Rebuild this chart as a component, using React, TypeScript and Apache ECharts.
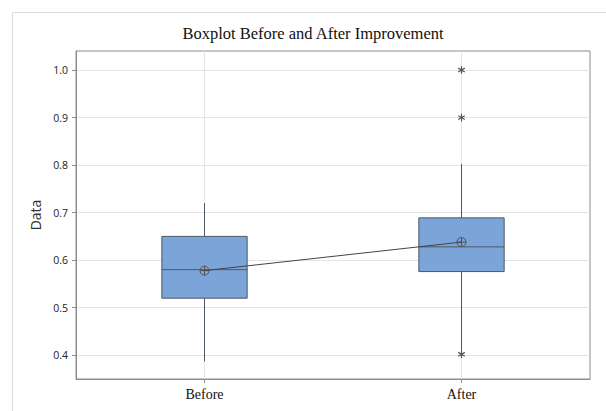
import React, { useEffect, useRef } from "react";
import * as echarts from "echarts";

const categories = ["Before", "After"];
const lowWhisker = [0.387, 0.41];
const q1 = [0.52, 0.576];
const medians = [0.58, 0.628];
const q3 = [0.65, 0.689];
const highWhisker = [0.72, 0.802];
const means = [0.578, 0.638];
const outlierGroup = ["After", "After", "After"];
const outlierValues = [1.0, 0.9, 0.402];
const yTicks = [0.4, 0.5, 0.6, 0.7, 0.8, 0.9, 1.0];

const STROKE = "#4f5965";

export default function App() {
  const ref = useRef<HTMLDivElement>(null);

  useEffect(() => {
    if (!ref.current) return;
    const chart = echarts.init(ref.current, undefined, { renderer: "svg" });

    const boxData = categories.map((_, i) => [
      i,
      lowWhisker[i],
      q1[i],
      medians[i],
      q3[i],
      highWhisker[i],
    ]);
    const outlierData = outlierGroup.map((g, i) => [categories.indexOf(g), outlierValues[i]]);
    const meanData = categories.map((_, i) => [i, means[i]]);
    const xTicks = categories.map((_, i) => i);

    chart.setOption({
      animation: false,
      title: {
        text: "Boxplot Before and After Improvement",
        left: 313,
        textAlign: "center",
        top: 25,
        padding: 0,
        textStyle: {
          fontFamily: "Liberation Serif",
          fontSize: 16.5,
          fontWeight: "normal",
          color: "#111",
        },
      },
      graphic: [
        {
          type: "rect",
          shape: { x: 12.5, y: 12.5, width: 620, height: 420 },
          style: { fill: "none", stroke: "#dcdcdc", lineWidth: 1 },
          silent: true,
        },
      ],
      grid: {
        left: 76,
        top: 51,
        width: 514,
        height: 328,
        show: true,
        borderColor: "#8c8c8c",
        borderWidth: 1,
        backgroundColor: "transparent",
      },
      xAxis: {
        type: "value",
        min: -0.5,
        max: 1.5,
        axisLine: { show: true, onZero: false, lineStyle: { color: "#8c8c8c" } },
        axisTick: {
          show: true,
          length: 4,
          customValues: xTicks,
          lineStyle: { color: "#8c8c8c" },
        },
        axisLabel: {
          customValues: xTicks,
          formatter: (v: number) => categories[Math.round(v)] ?? "",
          fontFamily: "Liberation Serif",
          fontSize: 14,
          color: "#111",
          margin: 8,
        },
        splitLine: { show: true, lineStyle: { color: "#e4e4e4", width: 1 } },
      },
      yAxis: {
        type: "value",
        min: 0.35,
        max: 1.04,
        name: "Data",
        nameLocation: "middle",
        nameGap: 23,
        nameTextStyle: {
          fontFamily: "Open Sans",
          fontSize: 14,
          color: "#333",
        },
        axisLine: { show: true, onZero: false, lineStyle: { color: "#8c8c8c" } },
        axisTick: {
          show: true,
          length: 4,
          customValues: yTicks,
          lineStyle: { color: "#8c8c8c" },
        },
        axisLabel: {
          customValues: yTicks,
          formatter: (v: number) => v.toFixed(1),
          fontFamily: "Open Sans",
          fontSize: 10.5,
          color: "#222",
          margin: 8,
        },
        splitLine: { show: true, lineStyle: { color: "#e4e4e4", width: 1 } },
      },
      series: [
        {
          type: "custom",
          name: "box",
          z: 2,
          data: boxData,
          encode: { x: 0, y: [1, 2, 3, 4, 5] },
          renderItem: (_params: any, api: any) => {
            const x = api.value(0);
            const lo = api.coord([x, api.value(1)]);
            const b = api.coord([x, api.value(2)]);
            const m = api.coord([x, api.value(3)]);
            const t = api.coord([x, api.value(4)]);
            const hi = api.coord([x, api.value(5)]);
            const half = api.size([1, 0])[0] * 0.166;
            return {
              type: "group",
              children: [
                {
                  type: "line",
                  shape: { x1: lo[0], y1: lo[1], x2: b[0], y2: b[1] },
                  style: { stroke: STROKE, lineWidth: 1 },
                },
                {
                  type: "line",
                  shape: { x1: t[0], y1: t[1], x2: hi[0], y2: hi[1] },
                  style: { stroke: STROKE, lineWidth: 1 },
                },
                {
                  type: "rect",
                  shape: { x: b[0] - half, y: t[1], width: 2 * half, height: b[1] - t[1] },
                  style: { fill: "#7ba4d8", stroke: STROKE, lineWidth: 1 },
                },
                {
                  type: "line",
                  shape: { x1: m[0] - half, y1: m[1], x2: m[0] + half, y2: m[1] },
                  style: { stroke: STROKE, lineWidth: 1 },
                },
              ],
            };
          },
        },
        {
          type: "line",
          name: "mean",
          z: 3,
          data: meanData,
          symbol: "none",
          lineStyle: { color: "#444", width: 1 },
        },
        {
          type: "custom",
          name: "meanSymbol",
          z: 4,
          data: meanData,
          encode: { x: 0, y: 1 },
          renderItem: (_params: any, api: any) => {
            const p = api.coord([api.value(0), api.value(1)]);
            const r = 4.5;
            const st = { stroke: "#505050", lineWidth: 1, fill: "none" };
            return {
              type: "group",
              children: [
                { type: "circle", shape: { cx: p[0], cy: p[1], r }, style: st },
                { type: "line", shape: { x1: p[0] - r, y1: p[1], x2: p[0] + r, y2: p[1] }, style: st },
                { type: "line", shape: { x1: p[0], y1: p[1] - r, x2: p[0], y2: p[1] + r }, style: st },
              ],
            };
          },
        },
        {
          type: "custom",
          name: "outliers",
          z: 4,
          data: outlierData,
          encode: { x: 0, y: 1 },
          renderItem: (_params: any, api: any) => {
            const p = api.coord([api.value(0), api.value(1)]);
            const r = 3.8;
            const st = { stroke: "#555", lineWidth: 1.2 };
            const children = [0, 60, 120].map((deg) => {
              const a = (deg * Math.PI) / 180;
              const dx = Math.sin(a) * r;
              const dy = Math.cos(a) * r;
              return {
                type: "line",
                shape: { x1: p[0] - dx, y1: p[1] - dy, x2: p[0] + dx, y2: p[1] + dy },
                style: st,
              };
            });
            return { type: "group", children };
          },
        },
      ],
    });

    return () => chart.dispose();
  }, []);

  return (
    <div
      ref={ref}
      style={{ position: "fixed", left: 0, top: 0, width: 606, height: 411, background: "#fff" }}
    />
  );
}
